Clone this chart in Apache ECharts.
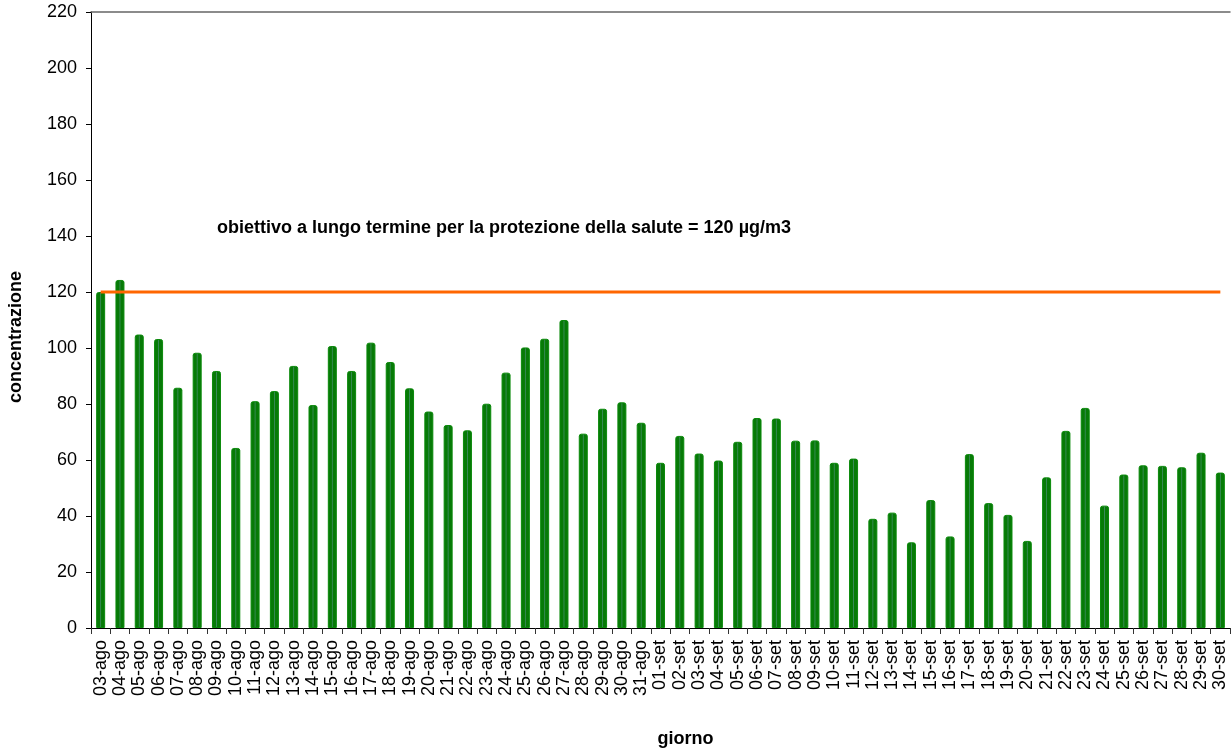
<!DOCTYPE html>
<html>
<head>
<meta charset="utf-8">
<title>concentrazione giornaliera</title>
<script src="https://cdn.jsdelivr.net/npm/echarts@6/dist/echarts.min.js"></script>
<style>
  html, body { margin: 0; padding: 0; background: #fff; }
  #chart { width: 1232px; height: 749px; }
</style>
</head>
<body>
<div id="chart"></div>
<script>
// giorni: 03-ago .. 30-set
const days = [
  '03-ago', '04-ago', '05-ago', '06-ago', '07-ago', '08-ago', '09-ago', '10-ago', '11-ago', '12-ago',
  '13-ago', '14-ago', '15-ago', '16-ago', '17-ago', '18-ago', '19-ago', '20-ago', '21-ago', '22-ago',
  '23-ago', '24-ago', '25-ago', '26-ago', '27-ago', '28-ago', '29-ago', '30-ago', '31-ago',
  '01-set', '02-set', '03-set', '04-set', '05-set', '06-set', '07-set', '08-set', '09-set', '10-set',
  '11-set', '12-set', '13-set', '14-set', '15-set', '16-set', '17-set', '18-set', '19-set', '20-set',
  '21-set', '22-set', '23-set', '24-set', '25-set', '26-set', '27-set', '28-set', '29-set', '30-set'
]

// concentrazione (µg/m3)
const concentrazione = [
  120, 124.3, 104.8, 103.2, 85.8, 98.3, 91.8, 64.3, 81, 84.6,
  93.6, 79.6, 100.7, 91.8, 101.9, 95, 85.6, 77.3, 72.5, 70.6,
  80.1, 91.2, 100.2, 103.3, 110, 69.4, 78.3, 80.6, 73.3,
  59, 68.6, 62.3, 59.8, 66.5, 75, 74.8, 66.9, 67, 59,
  60.5, 39, 41.2, 30.6, 45.7, 32.7, 62.1, 44.6, 40.4, 31.1,
  53.8, 70.4, 78.6, 43.7, 54.8, 58.1, 57.9, 57.4, 62.6, 55.5
]

// obiettivo a lungo termine
const obiettivo = days.map(() => 120)

const yTicks = { min: 0, max: 220, interval: 20 }

const font = '"Liberation Sans", Arial, sans-serif'

const chart = echarts.init(document.getElementById('chart'))

chart.setOption({
  animation: false,
  backgroundColor: '#fff',
  textStyle: { fontFamily: font },
  grid: {
    left: 91,
    right: 2,
    top: 12,
    bottom: 121,
    containLabel: false,
    outerBoundsMode: 'none'
  },
  xAxis: [
    {
      type: 'category',
      data: days,
      boundaryGap: true,
      name: 'giorno',
      nameLocation: 'middle',
      nameGap: 102,
      nameTextStyle: {
        fontSize: 18, fontWeight: 'bold', color: '#000', fontFamily: font,
        padding: [0, 0, 0, 50]
      },
      axisLine: { lineStyle: { color: '#000', width: 1 } },
      axisTick: { show: true, alignWithLabel: false, length: 6, lineStyle: { color: '#333' } },
      axisLabel: {
        interval: 0,
        rotate: 90,
        fontSize: 18,
        color: '#000',
        margin: 12,
        fontFamily: font
      },
      splitLine: { show: false }
    },
    {
      type: 'category',
      position: 'top',
      data: days,
      axisLine: { show: true, lineStyle: { color: '#666', width: 1.5 } },
      axisTick: { show: false },
      axisLabel: { show: false }
    }
  ],
  yAxis: {
    type: 'value',
    min: yTicks.min,
    max: yTicks.max,
    interval: yTicks.interval,
    name: 'concentrazione',
    nameLocation: 'middle',
    nameGap: 66,
    nameRotate: 90,
    nameTextStyle: {
      fontSize: 18, fontWeight: 'bold', color: '#000', fontFamily: font,
      padding: [0, 34, 0, 0]
    },
    axisLine: { show: true, lineStyle: { color: '#000', width: 1 } },
    axisTick: { show: true, length: 5, lineStyle: { color: '#000' } },
    axisLabel: { fontSize: 18, color: '#000', margin: 14, fontFamily: font },
    splitLine: { show: false }
  },
  series: [
    {
      type: 'bar',
      data: concentrazione,
      barWidth: 9,
      itemStyle: {
        color: {
          type: 'linear', x: 0, y: 0, x2: 1, y2: 0,
          colorStops: [
            { offset: 0, color: '#077a07' },
            { offset: 0.4, color: '#077a07' },
            { offset: 0.5, color: '#3a8a5a' },
            { offset: 0.6, color: '#077a07' },
            { offset: 1, color: '#077a07' }
          ]
        },
        borderColor: '#0b8a0b',
        borderWidth: 1,
        borderRadius: [2, 2, 0, 0]
      },
      z: 2
    },
    {
      type: 'line',
      data: obiettivo,
      symbol: 'none',
      lineStyle: { color: '#ff6600', width: 3 },
      z: 3
    }
  ],
  graphic: [
    {
      type: 'text',
      left: 217,
      top: 219,
      style: {
        text: 'obiettivo a lungo termine per la protezione della salute = 120 µg/m3',
        font: 'bold 18px ' + font,
        fill: '#000'
      }
    }
  ]
})
</script>
</body>
</html>
